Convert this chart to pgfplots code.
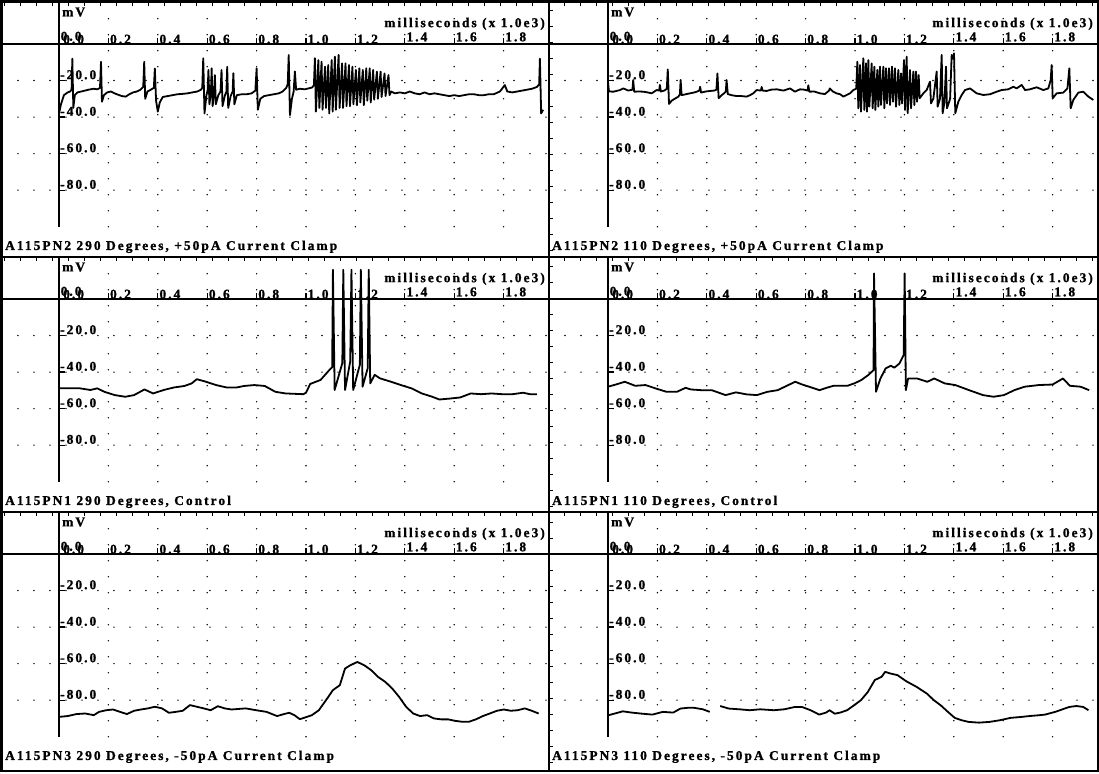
\documentclass[border=0pt]{standalone}
\usepackage{fontspec}
\setmainfont{Liberation Serif}[UprightFont=* Bold, BoldFont=* Bold, UprightFeatures={FakeBold=1.2}, LetterSpace=15]
\usepackage{pgfplots}
\pgfplotsset{compat=1.18}
\tikzset{
  trace/.style={black, line width=1.8bp, line join=round, mark=none},
  ttl/.style={anchor=west, inner sep=0pt, xshift=3bp},
  mvl/.style={anchor=west, inner sep=0pt, xshift=3bp},
  msl/.style={anchor=east, inner sep=0pt, xshift=-4bp},
  zx/.style={anchor=south west, inner sep=0pt, xshift=1.5bp, yshift=3bp},
  zy/.style={anchor=south west, inner sep=0pt, xshift=4bp, yshift=0bp},
}
\pgfplotsset{
  panel/.style={
    anchor=origin, x=247bp, y=1.827bp,
    ymin=-100, ymax=15,
    axis x line=middle, axis y line=middle,
    axis line style={-, line width=1.5bp, black},
    every inner x axis line/.append style={-},
    every inner y axis line/.append style={-, shorten >=-14.6bp},
    tick align=center, major tick length=6bp,
    xtick style={line width=1.2bp, black, yshift=3bp},
    ytick style={line width=1.2bp, black, xshift=3bp},
    xtick={0,0.2,0.4,0.6,0.8,1.0,1.2,1.4,1.6,1.8},
    xticklabels={,0.2,0.4,0.6,0.8,1.0,1.2,\raisebox{2.5bp}{1.4},\raisebox{2.5bp}{1.6},\raisebox{2.5bp}{1.8}},
    ytick={-80,-60,-40,-20},
    yticklabels={-80.0,-60.0,-40.0,-20.0},
    xticklabel style={anchor=south west, inner sep=0pt, xshift=1.5bp, yshift=3bp},
    yticklabel style={anchor=south west, inner sep=0pt, xshift=4bp, yshift=1bp},
    grid=major,
    major grid style={black, line width=1.6bp, line cap=round, dash pattern=on 0bp off 16bp},
    clip=false,
  },
  leftcol/.style={xmin=-0.2308, xmax=1.9838},
  rightcol/.style={xmin=-0.2389, xmax=1.9798},
}
\begin{document}
\begin{tikzpicture}[font=\fontsize{13.5}{15}\selectfont]
\useasboundingbox (0,0) rectangle (1099bp,-774bp);

% ---------------- Row 1 left
\begin{axis}[panel, leftcol, at={(59bp,-44bp)}]
\addplot[trace] coordinates {
(0.000,-38) (0.008,-33) (0.020,-28) (0.035,-26.5) (0.045,-26) (0.051,-25) (0.054,-8) (0.058,-35) (0.064,-28) (0.075,-26.5) (0.090,-26) (0.105,-25.5) (0.120,-25) (0.140,-24.5) (0.155,-24.8) (0.166,-24) (0.170,-9.7) (0.174,-31.6) (0.182,-28) (0.195,-26.5) (0.210,-26) (0.225,-27) (0.240,-27.8) (0.255,-28.5) (0.270,-28.8) (0.285,-27.5) (0.300,-26.5) (0.315,-26) (0.330,-25) (0.341,-23.5) (0.345,-9.7) (0.349,-30) (0.358,-26) (0.372,-25) (0.384,-24) (0.388,-13.4) (0.393,-31) (0.400,-37) (0.408,-32) (0.420,-29) (0.440,-28.5) (0.460,-28) (0.480,-27.5) (0.500,-27.3) (0.520,-27) (0.540,-26.5) (0.560,-26) (0.575,-25) (0.580,-24) (0.584,-7.8) (0.589,-38) (0.597,-28) (0.602,-25) (0.605,-14.2) (0.609,-33) (0.615,-27) (0.618,-13.3) (0.622,-34) (0.628,-27) (0.631,-17) (0.635,-33) (0.645,-28) (0.654,-26) (0.658,-14.2) (0.662,-34) (0.672,-28) (0.678,-26) (0.681,-12.5) (0.685,-35) (0.695,-28.5) (0.703,-26) (0.706,-16) (0.710,-33) (0.720,-28) (0.740,-27.5) (0.760,-27.5) (0.780,-27) (0.795,-25.5) (0.800,-13.4) (0.805,-36) (0.815,-30) (0.830,-28.5) (0.850,-28) (0.870,-27.5) (0.890,-27) (0.905,-26) (0.920,-24) (0.926,-22) (0.930,-6) (0.935,-38.9) (0.943,-30) (0.950,-26) (0.955,-15) (0.960,-25) (0.975,-24.5) (0.995,-24.8) (1.010,-24.3) (1.025,-23.8) (1.032,-22.5)
(1.036,-7.8) (1.040,-37) (1.050,-8.8) (1.054,-35) (1.063,-9.7) (1.067,-36) (1.077,-12.4) (1.081,-35) (1.090,-11.5) (1.094,-38) (1.104,-8.8) (1.108,-37) (1.117,-6.9) (1.121,-36) (1.132,-6.0) (1.136,-35) (1.146,-10.6) (1.150,-35) (1.160,-10.6) (1.164,-34) (1.174,-11.5) (1.178,-34) (1.188,-12.4) (1.192,-33) (1.202,-14.2) (1.206,-33.5) (1.216,-13.3) (1.220,-32) (1.230,-14.2) (1.234,-33.5) (1.244,-13.3) (1.248,-31) (1.258,-13.3) (1.262,-32) (1.272,-14.2) (1.276,-30.5) (1.287,-15.1) (1.291,-30) (1.302,-15.1) (1.306,-29) (1.318,-16.1) (1.322,-28.5) (1.334,-17.0) (1.338,-28)
(1.345,-26) (1.360,-27) (1.380,-26.5) (1.400,-27) (1.420,-26) (1.440,-27) (1.460,-27.5) (1.480,-26.5) (1.500,-27.5) (1.520,-27) (1.540,-27.5) (1.560,-28) (1.580,-28.5) (1.600,-28) (1.620,-28.5) (1.640,-28) (1.660,-27.5) (1.680,-27.5) (1.700,-28) (1.720,-28) (1.740,-27.5) (1.760,-27.5) (1.785,-26) (1.805,-22.5) (1.815,-26) (1.835,-26.5) (1.855,-26) (1.875,-25.5) (1.895,-25) (1.915,-24.5) (1.935,-23.5) (1.944,-22) (1.947,-8) (1.952,-38) (1.960,-36)
};
\node[ttl] at (axis cs:-0.2308,-111) {A115PN2 290 Degrees, +50pA Current Clamp};
\node[mvl] at (axis cs:0,17.5) {mV};
\node[msl] at (axis cs:1.9838,11) {milliseconds (x 1.0e3)};
\node[zx] at (axis cs:0,0) {0.0};
\node[zy] at (axis cs:0,0) {0.0};
\end{axis}

% ---------------- Row 1 right
\begin{axis}[panel, rightcol, at={(608bp,-44bp)}]
\addplot[trace] coordinates {
(0.000,-21) (0.004,-26) (0.022,-26.1) (0.049,-25.2) (0.062,-24.3) (0.082,-25.5) (0.099,-25) (0.102,-19.7) (0.106,-26.1) (0.125,-26) (0.143,-26.1) (0.160,-26.5) (0.177,-27.0) (0.197,-25.2) (0.207,-25.5) (0.210,-22.4) (0.214,-26) (0.228,-25.5) (0.238,-24.5) (0.242,-13.9) (0.247,-32.8) (0.258,-31) (0.270,-30) (0.285,-28.8) (0.291,-27.5) (0.294,-19.7) (0.298,-28) (0.315,-27.5) (0.332,-27.0) (0.350,-26.5) (0.359,-26.1) (0.370,-25.5) (0.373,-23.4) (0.377,-26.6) (0.395,-26) (0.413,-25.7) (0.430,-25.5) (0.439,-25) (0.443,-16.1) (0.448,-29.7) (0.460,-28) (0.470,-27) (0.477,-26) (0.480,-19.7) (0.485,-27.4) (0.500,-28) (0.521,-28.5) (0.540,-28.5) (0.561,-28.8) (0.575,-28) (0.588,-27.0) (0.602,-25.2) (0.619,-25.5) (0.622,-23.5) (0.626,-25.5) (0.642,-25.7) (0.660,-25) (0.683,-24.8) (0.710,-25.5) (0.737,-24.3) (0.757,-26.1) (0.777,-24.8) (0.795,-25) (0.808,-25.5) (0.811,-22.6) (0.815,-26.1) (0.835,-26) (0.858,-27) (0.878,-27.4) (0.895,-25.5) (0.898,-24.3) (0.910,-26) (0.925,-27) (0.940,-27.5) (0.953,-28.8) (0.965,-28) (0.980,-27.0) (0.993,-25.2) (1.005,-24.5)
(1.0094,-9.7) (1.0134,-35.2) (1.0202,-11.5) (1.0242,-37.0) (1.0337,-7.8) (1.0377,-36.1) (1.0445,-10.6) (1.0485,-37.0) (1.0540,-8.8) (1.0580,-34.3) (1.0675,-10.6) (1.0715,-35.2) (1.0783,-12.4) (1.0823,-36.1) (1.0904,-14.2) (1.0944,-34.3) (1.1012,-12.4) (1.1052,-33.4) (1.1147,-12.4) (1.1187,-35.2) (1.1255,-13.3) (1.1295,-32.5) (1.1377,-13.3) (1.1417,-33.4) (1.1498,-12.4) (1.1538,-31.6) (1.1619,-13.3) (1.1659,-34.3) (1.1754,-14.2) (1.1794,-33.4) (1.1862,-16.1) (1.1902,-32.5) (1.1984,-8.8) (1.2024,-36.1) (1.2092,-6.9) (1.2132,-37.9) (1.2227,-14.2) (1.2267,-35.2) (1.2362,-15.1) (1.2402,-33.4) (1.2470,-15.1) (1.2510,-31.6) (1.2578,-17.0) (1.2618,-29.7) (1.2766,-27.0) (1.2901,-25.2) (1.3036,-20.6) (1.3076,-32.5) (1.3171,-30) (1.3306,-15.1) (1.3346,-34.3) (1.3440,-30) (1.3509,-6.0) (1.3549,-37.9) (1.3620,-32) (1.3684,-12.4) (1.3724,-35.2) (1.3850,-30) (1.3914,-6.0) (1.3960,-8) (1.4008,-5.1) (1.4060,-37.9) (1.4184,-31.6) (1.4319,-27.9) (1.4454,-25.2) (1.4656,-24.3) (1.4926,-27.0) (1.5196,-27.9) (1.5466,-27.5) (1.5735,-26.1) (1.5938,-25.2) (1.6208,-24.8) (1.6410,-23.4) (1.6545,-24.3) (1.6748,-22.4) (1.6883,-25.2) (1.7085,-24.8) (1.7355,-23.7) (1.7625,-25.2) (1.7827,-24.3) (1.7922,-19.7) (1.7962,-11.5) (1.8003,-29.7) (1.8165,-27.0) (1.8435,-26.6) (1.8600,-24.3) (1.8677,-13.3) (1.8731,-35.2) (1.8839,-30.6) (1.9042,-26.6) (1.9244,-26.1) (1.9447,-28.8) (1.9649,-30.6)
};
\node[ttl] at (axis cs:-0.2389,-111) {A115PN2 110 Degrees, +50pA Current Clamp};
\node[mvl] at (axis cs:0,17.5) {mV};
\node[msl] at (axis cs:1.9798,11) {milliseconds (x 1.0e3)};
\node[zx] at (axis cs:0,0) {0.0};
\node[zy] at (axis cs:0,0) {0.0};
\end{axis}

% ---------------- Row 2 left
\begin{axis}[panel, leftcol, at={(59bp,-299bp)}]
\addplot[trace] coordinates {
(0.000,-48.9) (0.085,-48.9) (0.127,-49.8) (0.155,-48.9) (0.184,-50.8) (0.226,-52.6) (0.268,-53.5) (0.304,-52.6) (0.346,-49.5) (0.381,-51.7) (0.424,-49.8) (0.466,-48.4) (0.508,-47.6) (0.537,-46.2) (0.558,-43.9) (0.593,-45.2) (0.636,-47.1) (0.678,-48.4) (0.720,-48.4) (0.749,-47.6) (0.791,-47.1) (0.833,-47.6) (0.876,-50.8) (0.918,-51.7) (0.989,-52.1) (1.000,-51.3) (1.017,-46.5) (1.059,-44.3) (1.095,-38.8) (1.106,-37.3)
(1.109,16) (1.116,-49.8) (1.147,-35.1) (1.151,16) (1.158,-49.8) (1.179,-34.2) (1.184,16) (1.191,-49.8) (1.218,-36.0) (1.222,16) (1.229,-48.0) (1.250,-37.8) (1.254,16) (1.260,-46.2)
(1.278,-41.5) (1.299,-43.4) (1.342,-45.2) (1.384,-47.1) (1.427,-48.9) (1.469,-51.7) (1.511,-53.5) (1.540,-55.0) (1.582,-54.5) (1.624,-53.9) (1.667,-51.7) (1.709,-52.1) (1.751,-51.7) (1.794,-52.1) (1.836,-52.1) (1.879,-51.3) (1.907,-52.1) (1.935,-52.1)
};
\node[ttl] at (axis cs:-0.2308,-111) {A115PN1 290 Degrees, Control};
\node[mvl] at (axis cs:0,17.5) {mV};
\node[msl] at (axis cs:1.9838,11) {milliseconds (x 1.0e3)};
\node[zx] at (axis cs:0,0) {0.0};
\node[zy] at (axis cs:0,0) {0.0};
\end{axis}

% ---------------- Row 2 right
\begin{axis}[panel, rightcol, at={(608bp,-299bp)}]
\addplot[trace] coordinates {
(0.000,-48.0) (0.032,-46.8) (0.068,-45.3) (0.110,-47.5) (0.152,-47.1) (0.194,-49.0) (0.237,-50.8) (0.279,-50.8) (0.314,-48.6) (0.335,-49.5) (0.377,-49.9) (0.420,-49.9) (0.476,-52.6) (0.518,-51.1) (0.561,-52.2) (0.603,-52.6) (0.645,-50.8) (0.687,-49.9) (0.730,-47.1) (0.758,-45.3) (0.786,-46.8) (0.814,-48.0) (0.856,-49.9) (0.885,-48.6) (0.913,-47.5) (0.969,-47.5) (0.997,-46.2) (1.025,-44.4) (1.054,-41.6) (1.075,-38.9)
(1.077,14) (1.085,-50.8) (1.103,-43.5) (1.124,-38.0) (1.145,-36.5) (1.159,-37.6) (1.180,-35.3) (1.197,-30.7) (1.201,14) (1.206,-49.9)
(1.215,-43.5) (1.251,-43.5) (1.293,-45.3) (1.321,-43.5) (1.363,-46.2) (1.406,-47.1) (1.462,-49.9) (1.518,-52.6) (1.561,-53.5) (1.603,-52.6) (1.645,-49.9) (1.687,-48.0) (1.744,-47.1) (1.800,-46.8) (1.842,-43.5) (1.870,-47.5) (1.913,-48.0) (1.948,-49.9)
};
\node[ttl] at (axis cs:-0.2389,-111) {A115PN1 110 Degrees, Control};
\node[mvl] at (axis cs:0,17.5) {mV};
\node[msl] at (axis cs:1.9798,11) {milliseconds (x 1.0e3)};
\node[zx] at (axis cs:0,0) {0.0};
\node[zy] at (axis cs:0,0) {0.0};
\end{axis}

% ---------------- Row 3 left
\begin{axis}[panel, leftcol, at={(59bp,-554bp)}]
\addplot[trace] coordinates {
(0.004,-89.1) (0.035,-88.7) (0.071,-87.6) (0.106,-87.3) (0.141,-88.2) (0.162,-86.4) (0.191,-85.5) (0.219,-85.1) (0.247,-86.4) (0.275,-87.6) (0.304,-85.8) (0.332,-85.1) (0.360,-84.5) (0.388,-83.6) (0.417,-84.5) (0.445,-86.9) (0.473,-86.4) (0.501,-85.8) (0.530,-82.7) (0.558,-83.6) (0.586,-84.5) (0.614,-85.5) (0.643,-83.3) (0.671,-84.5) (0.699,-85.1) (0.756,-84.5) (0.798,-85.5) (0.840,-86.4) (0.883,-88.7) (0.911,-87.6) (0.932,-86.9) (0.953,-88.2) (0.975,-90.4) (0.996,-89.5) (1.024,-88.2) (1.052,-85.5) (1.081,-80.0) (1.109,-74.5) (1.137,-71.8) (1.158,-62.7) (1.179,-60.9) (1.208,-59.1) (1.236,-60.9) (1.264,-63.6) (1.292,-67.3) (1.321,-70.0) (1.349,-73.6) (1.377,-78.2) (1.405,-83.6) (1.434,-87.3) (1.462,-88.7) (1.490,-88.2) (1.518,-90.0) (1.547,-90.5) (1.575,-90.5) (1.603,-91.3) (1.631,-91.8) (1.660,-91.8) (1.688,-90.5) (1.716,-88.7) (1.744,-87.3) (1.773,-85.8) (1.801,-85.1) (1.829,-85.8) (1.857,-85.5) (1.886,-84.5) (1.914,-85.8) (1.942,-87.3)
};
\node[ttl] at (axis cs:-0.2308,-111) {A115PN3 290 Degrees, -50pA Current Clamp};
\node[mvl] at (axis cs:0,17.5) {mV};
\node[msl] at (axis cs:1.9838,11) {milliseconds (x 1.0e3)};
\node[zx] at (axis cs:0,0) {0.0};
\node[zy] at (axis cs:0,0) {0.0};
\end{axis}

% ---------------- Row 3 right
\begin{axis}[panel, rightcol, at={(608bp,-554bp)}]
\addplot[trace] coordinates {
(0.000,-88.3) (0.025,-87.4) (0.060,-86.1) (0.096,-86.8) (0.138,-87.4) (0.180,-87.9) (0.222,-86.4) (0.264,-86.8) (0.293,-84.6) (0.321,-84.2) (0.349,-84.2) (0.384,-85.0) (0.412,-86.4)
};
\addplot[trace] coordinates {
(0.454,-83.2) (0.489,-84.6) (0.532,-85.0) (0.574,-85.5) (0.616,-85.0) (0.672,-85.5) (0.714,-85.0) (0.757,-83.7) (0.785,-83.7) (0.820,-85.5) (0.855,-87.9) (0.883,-86.8) (0.897,-85.5) (0.918,-87.4) (0.940,-86.8) (0.968,-85.5) (0.996,-82.8) (1.024,-80.0) (1.052,-75.5) (1.080,-69.0) (1.108,-67.2) (1.122,-64.5) (1.143,-65.4) (1.172,-66.3) (1.207,-69.6) (1.249,-72.7) (1.291,-76.4) (1.319,-80.0) (1.347,-82.8) (1.376,-86.4) (1.404,-89.7) (1.432,-91.0) (1.460,-91.9) (1.502,-92.3) (1.544,-91.9) (1.586,-91.0) (1.629,-89.7) (1.671,-89.2) (1.713,-88.6) (1.741,-88.3) (1.769,-87.9) (1.811,-86.4) (1.840,-85.0) (1.868,-83.7) (1.896,-83.2) (1.924,-83.7) (1.945,-85.5)
};
\node[ttl] at (axis cs:-0.2389,-111) {A115PN3 110 Degrees, -50pA Current Clamp};
\node[mvl] at (axis cs:0,17.5) {mV};
\node[msl] at (axis cs:1.9798,11) {milliseconds (x 1.0e3)};
\node[zx] at (axis cs:0,0) {0.0};
\node[zy] at (axis cs:0,0) {0.0};
\end{axis}

% frame
\draw[line width=2bp] (1.5bp,-1.5bp) rectangle (1097.5bp,-770.5bp);
\draw[line width=2bp] (549bp,-1.5bp) -- (549bp,-770.5bp);
\draw[line width=2bp] (1.5bp,-257bp) -- (1097.5bp,-257bp);
\draw[line width=2bp] (1.5bp,-512bp) -- (1097.5bp,-512bp);
% small tick marks along the frame lines
\foreach \yy in {1.5,257,512} {
  \draw[line width=4bp, dash pattern=on 1.2bp off 14.8bp] (4bp,-\yy bp-2bp) -- (1096bp,-\yy bp-2bp);
}
\draw[line width=4bp, dash pattern=on 1.2bp off 14.8bp] (551bp,-10bp) -- (551bp,-768bp);
\end{tikzpicture}
\end{document}
